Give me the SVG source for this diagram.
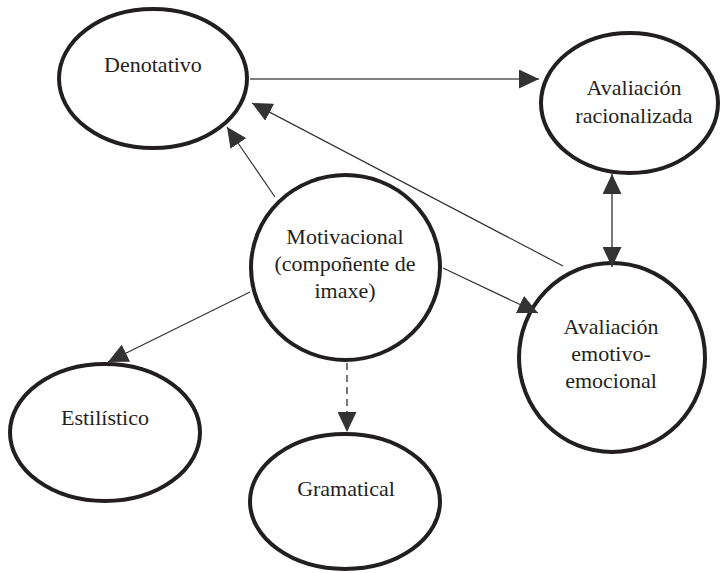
<svg xmlns="http://www.w3.org/2000/svg" width="721" height="573" viewBox="0 0 721 573">
<style>
.node{fill:#fff;stroke:#231f20;stroke-width:4}
.lbl{font-family:"Liberation Serif","Times New Roman",serif;font-size:22px;fill:#231f20;text-anchor:middle}
.edge{fill:none;stroke:#333;stroke-width:1.2}
</style>
<defs>
<marker id="ah" markerUnits="userSpaceOnUse" markerWidth="20" markerHeight="19" refX="20" refY="9.5" orient="auto-start-reverse" viewBox="0 0 20 19">
<path d="M0,0 L20,9.5 L0,19 z" fill="#333"/>
</marker>
</defs>
<rect width="721" height="573" fill="#fff"/>
<g id="denotativo">
<ellipse class="node" cx="153" cy="78.5" rx="94" ry="69.5"/>
<text class="lbl" x="153" y="72">Denotativo</text>
</g>
<g id="racionalizada">
<ellipse class="node" cx="629.5" cy="103" rx="88.5" ry="70"/>
<text class="lbl" x="634" y="95">Avaliación</text>
<text class="lbl" x="634" y="123">racionalizada</text>
</g>
<g id="motivacional">
<ellipse class="node" cx="345.5" cy="267.5" rx="94.5" ry="92.5"/>
<text class="lbl" x="345" y="244">Motivacional</text>
<text class="lbl" x="345" y="271">(compoñente de</text>
<text class="lbl" x="345" y="298">imaxe)</text>
</g>
<g id="emotivo">
<ellipse class="node" cx="612" cy="357.5" rx="93" ry="94.5"/>
<text class="lbl" x="611" y="334">Avaliación</text>
<text class="lbl" x="611" y="361">emotivo-</text>
<text class="lbl" x="611" y="388">emocional</text>
</g>
<g id="estilistico">
<ellipse class="node" cx="105" cy="432.5" rx="95" ry="68.5"/>
<text class="lbl" x="105" y="425">Estilístico</text>
</g>
<g id="gramatical">
<ellipse class="node" cx="345" cy="501.5" rx="95" ry="67.5"/>
<text class="lbl" x="346" y="496">Gramatical</text>
</g>
<g id="connectors">
<line class="edge" x1="250" y1="79" x2="539" y2="79" style="stroke:#555;stroke-width:1.6" marker-end="url(#ah)"/>
<line class="edge" x1="563" y1="266" x2="252" y2="103" marker-end="url(#ah)"/>
<line class="edge" x1="275" y1="197" x2="227" y2="127" marker-end="url(#ah)"/>
<line class="edge" x1="443" y1="268" x2="538" y2="313" marker-end="url(#ah)"/>
<line class="edge" x1="250" y1="292" x2="108" y2="362" marker-end="url(#ah)"/>
<line class="edge" x1="347" y1="363" x2="347" y2="432" style="stroke:#555;stroke-width:1.6;stroke-dasharray:7 5" marker-end="url(#ah)"/>
<line class="edge" x1="612" y1="174" x2="612" y2="267" style="stroke:#555;stroke-width:1.6" marker-start="url(#ah)" marker-end="url(#ah)"/>
</g>
</svg>
